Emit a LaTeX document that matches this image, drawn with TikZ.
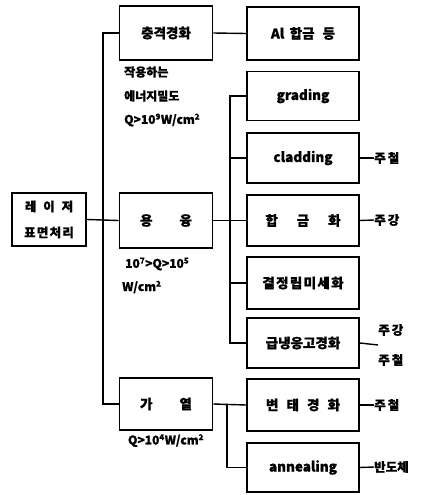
\documentclass[tikz,border=0pt]{standalone}
\usepackage{fontspec}
\setmainfont{Noto Sans CJK KR}[UprightFont={* Black},FakeBold=1]
\begin{document}
\begin{tikzpicture}[x=1pt,y=-1pt,
  box/.style={draw,line width=1.7pt,minimum width=#1,minimum height=50pt,inner sep=0pt,font=\fontsize{13.5}{15}\selectfont},
  box/.default=112pt,
  conn/.style={line width=1.4pt},
  lab/.style={font=\fontsize{12}{14}\selectfont,inner sep=0pt},
  side/.style={font=\fontsize{12.5}{30}\selectfont,inner sep=0pt,align=center}]
\useasboundingbox (0,0) rectangle (424,495);
% left
\node[box=74pt,minimum height=53pt,align=center,font=\fontsize{12.5}{26}\selectfont] (laser) at (49,219.5) {레\hspace{0.55em}이\hspace{0.55em}저\\표\hspace{0.1em}면\hspace{0.1em}처\hspace{0.1em}리};
\node[box=93pt,minimum height=54pt] (shock) at (166,33) {충격경화};
\node[box=93pt,minimum height=55pt] (melt) at (166,220.5) {용\hspace{2em}융};
\node[box=93pt,minimum height=52pt] (heat) at (166,404) {가\hspace{2em}열};
% right
\node[box,minimum height=53pt] (al) at (303,33.5) {Al\hspace{0.4em}합금\hspace{0.6em}등};
\node[box,minimum height=49pt] (grad) at (303,96) {grading};
\node[box] (clad) at (303,158) {cladding};
\node[box,minimum height=51pt] (alloy) at (303,220.5) {합\hspace{1.4em}금\hspace{1.4em}화};
\node[box,minimum height=52pt] (grain) at (303,283) {결\hspace{0.1em}정\hspace{0.1em}립\hspace{0.1em}미\hspace{0.1em}세\hspace{0.1em}화};
\node[box] (rapid) at (303,343) {급냉응고경화};
\node[box,minimum height=52pt] (trans) at (303,405) {변\hspace{0.6em}태\hspace{0.6em}경\hspace{0.6em}화};
\node[box,minimum height=49pt] (anneal) at (303,467.5) {annealing};
% labels
\node[lab,anchor=west] (t1) at (124,72) {작용하는};
\node[lab,anchor=west] (t2) at (124,96) {에너지밀도};
\node[lab,anchor=west] (t3) at (124,120) {Q>10\textsuperscript{9}W/cm\textsuperscript{2}};
\node[lab,anchor=west] (t4) at (125,264) {10\textsuperscript{7}>Q>10\textsuperscript{5}};
\node[lab,anchor=west] (t5) at (122,287) {W/cm\textsuperscript{2}};
\node[lab,anchor=north] (t6) at (166,434) {Q>10\textsuperscript{4}W/cm\textsuperscript{2}};
% side labels
\node[side,anchor=west] (s1) at (374,158) {주\,철};
\node[side,anchor=west] (s2) at (374,220) {주\,강};
\node[side,anchor=west] (s3) at (378,345) {주\,강\\주\,철};
\node[side,anchor=west] (s4) at (374,405) {주\,철};
\node[side,anchor=west] (s5) at (374,467) {반도체};
% main trunk
\coordinate (mt) at (103,33);
\coordinate (mb) at (103,404);
\draw[conn] (shock.west) -- (mt) -- (mb) -- (heat.west);
\draw[conn] (laser.east) -- (melt.west);
\draw[conn] (shock.east) -- (al.west);
% melt branch
\coordinate (bt) at (230,96);
\coordinate (bb) at (230,343);
\draw[conn] (grad.west) -- (bt) -- (bb) -- (rapid.west);
\draw[conn] (melt.east) -- (alloy.west);
\draw[conn] (bt |- clad.west) -- (clad.west);
\draw[conn] (bt |- grain.west) -- (grain.west);
% heat branch
\coordinate (ht) at (227,405);
\coordinate (hb) at (227,467.5);
\draw[conn] (heat.east) -- (trans.west);
\draw[conn] (ht) -- (hb) -- (anneal.west);
% side connectors
\draw[conn] (clad.east) -- (s1.west);
\draw[conn] (alloy.east) -- (s2.west);
\draw[conn] (rapid.east) -- (s3.west);
\draw[conn] (trans.east) -- (s4.west);
\draw[conn] (anneal.east) -- (s5.west);
\end{tikzpicture}
\end{document}
